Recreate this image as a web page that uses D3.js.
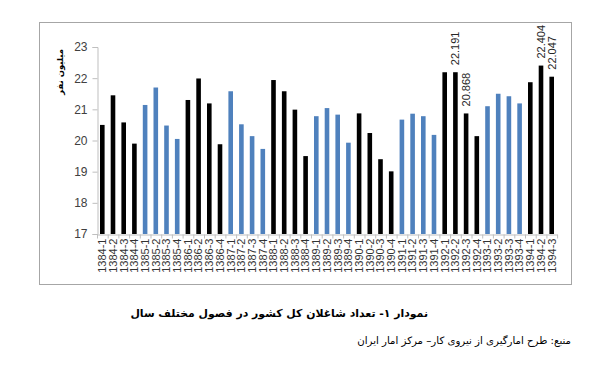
<!DOCTYPE html>
<html>
<head>
<meta charset="utf-8">
<script src="https://cdn.jsdelivr.net/npm/d3@7/dist/d3.min.js"></script>
<style>
  body { margin: 0; background: #fff; }
  svg { display: block; }
</style>
</head>
<body>
<script>
// Quarters, 1384-1 .. 1394-3
const years = ['1384', '1385', '1386', '1387', '1388', '1389', '1390', '1391', '1392', '1393', '1394'];
const quarters = years.flatMap(y => ['1', '2', '3', '4'].map(q => y + '-' + q)).slice(0, 43);

// employed population, million persons
const employed = [
  20.50, 21.45, 20.58, 19.90,
  21.14, 21.70, 20.48, 20.05,
  21.30, 21.99, 21.19, 19.88,
  21.58, 20.52, 20.14, 19.73,
  21.94, 21.58, 20.99, 19.50,
  20.78, 21.04, 20.83, 19.93,
  20.87, 20.24, 19.40, 19.01,
  20.67, 20.86, 20.78, 20.18,
  22.19, 22.191, 20.868, 20.14,
  21.10, 21.50, 21.42, 21.19,
  21.87, 22.404, 22.047
];

// which bars carry a value label
const labelled = ['1392-2', '1392-3', '1394-2', '1394-3'];

const yTicks = [17, 18, 19, 20, 21, 22, 23];

const titleText = 'نمودار ۱- تعداد شاغلان کل کشور در فصول مختلف سال';
const sourceText = 'منبع: طرح امارگیری از نیروی کار– مرکز امار ایران';
const yLabel = 'میلیون نفر';

const W = 610, H = 369;
const svg = d3.select('body').append('svg')
  .attr('width', W)
  .attr('height', H);

svg.append('rect').attr('width', W).attr('height', H).attr('fill', '#fff');

// chart frame
svg.append('rect')
  .attr('x', 39.5).attr('y', 22.5)
  .attr('width', 532).attr('height', 262)
  .attr('fill', 'none')
  .attr('stroke', '#a6a6a6')
  .attr('stroke-width', 1);

const x = d3.scaleBand()
  .domain(quarters)
  .range([97, 557])
  .paddingInner(0.57)
  .paddingOuter(0.28);

const y = d3.scaleLinear()
  .domain([17, 23])
  .range([234, 47]);

const numFont = '"Liberation Sans", Arial, sans-serif';
const faFont = '"DejaVu Sans", sans-serif';

// y axis
const yAxis = svg.append('g')
  .attr('transform', 'translate(97.5,0)')
  .call(d3.axisLeft(y).tickValues(yTicks).tickFormat(d3.format('d')).tickSize(5).tickPadding(5));
yAxis.select('.domain').attr('stroke', '#bfbfbf');
yAxis.selectAll('.tick line').attr('stroke', '#bfbfbf');
yAxis.selectAll('.tick text')
  .attr('font-family', numFont)
  .attr('font-size', 12)
  .attr('fill', '#404040');

// x axis
const xAxis = svg.append('g')
  .attr('transform', 'translate(0,234.5)')
  .call(d3.axisBottom(x).tickSize(0).tickPadding(4));
xAxis.select('.domain').attr('stroke', '#bfbfbf');
xAxis.selectAll('.tick text')
  .attr('font-family', numFont)
  .attr('font-size', 11)
  .attr('fill', '#333')
  .attr('text-anchor', 'end')
  .attr('transform', 'rotate(-90)')
  .attr('x', -4)
  .attr('y', 0)
  .attr('dy', '0.35em');

// small ticks between the bars
const step = x.step();
svg.append('g').selectAll('line')
  .data(d3.range(quarters.length + 1))
  .join('line')
  .attr('x1', i => 97 + i * step + 0.5)
  .attr('x2', i => 97 + i * step + 0.5)
  .attr('y1', 234.5)
  .attr('y2', 238.5)
  .attr('stroke', '#bfbfbf');

// bars, colour alternates by year
const colorOf = q => (years.indexOf(q.slice(0, 4)) % 2 === 0 ? '#000000' : '#4f81bd');

svg.append('g').selectAll('rect')
  .data(quarters.map((q, i) => ({ q, v: employed[i] })))
  .join('rect')
  .attr('x', d => x(d.q))
  .attr('width', x.bandwidth())
  .attr('y', d => y(d.v))
  .attr('height', d => y(17) - y(d.v))
  .attr('fill', d => colorOf(d.q));

// value labels
svg.append('g').selectAll('text')
  .data(quarters.map((q, i) => ({ q, v: employed[i] })).filter(d => labelled.includes(d.q)))
  .join('text')
  .attr('transform', d => `translate(${x(d.q) + x.bandwidth() / 2},${y(d.v) - 7}) rotate(-90)`)
  .attr('dy', '0.35em')
  .attr('font-family', numFont)
  .attr('font-size', 11)
  .attr('fill', '#262626')
  .text(d => d.v.toFixed(3));

// fit a text element to a target width by font size
function fit(sel, width) {
  const fs = +sel.attr('font-size');
  const w = sel.node().getComputedTextLength();
  if (w > 0) sel.attr('font-size', fs * width / w);
}

// y axis title, rotated
svg.append('text')
  .attr('transform', 'translate(60,72) rotate(-90)')
  .attr('text-anchor', 'middle')
  .attr('dy', '0.35em')
  .style('font-family', faFont)
  .style('font-weight', 'bold')
  .style('font-size', '8.5px')
  .attr('fill', '#000')
  .text(yLabel);

// caption and source
const title = svg.append('text')
  .attr('x', 428).attr('y', 317)
  .attr('direction', 'rtl')
  .attr('text-anchor', 'start')
  .attr('font-family', faFont)
  .attr('font-weight', 'bold')
  .attr('font-size', 13)
  .attr('fill', '#000')
  .text(titleText);
fit(title, 298);

const src = svg.append('text')
  .attr('x', 571).attr('y', 344)
  .attr('direction', 'rtl')
  .attr('text-anchor', 'start')
  .attr('font-family', faFont)
  .attr('font-size', 11)
  .attr('fill', '#000')
  .text(sourceText);
fit(src, 214);
</script>
</body>
</html>
